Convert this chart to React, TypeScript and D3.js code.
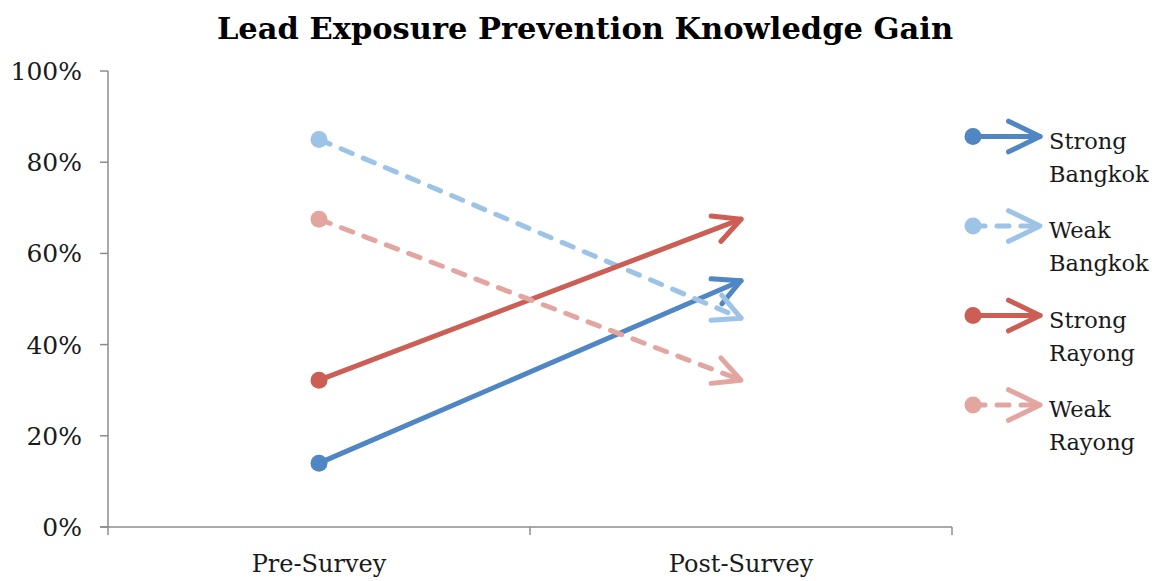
import React from "react";
import * as d3 from "d3";

// Survey stages on the category axis
const stages = ["Pre-Survey", "Post-Survey"];

// Share of correct answers per group (pre, post)
const strongBangkok = [0.14, 0.54];
const weakBangkok = [0.85, 0.458];
const strongRayong = [0.322, 0.675];
const weakRayong = [0.675, 0.322];

const seriesNames = [
  ["Strong", "Bangkok"],
  ["Weak", "Bangkok"],
  ["Strong", "Rayong"],
  ["Weak", "Rayong"],
];
const seriesValues = [strongBangkok, weakBangkok, strongRayong, weakRayong];
const seriesColors = ["#4F86C3", "#9DC3E6", "#CC5F55", "#E3A5A0"];
const seriesDashed = [false, true, false, true];

const yTicks = [0, 0.2, 0.4, 0.6, 0.8, 1.0];

const W = 1156;
const H = 581;
const FONT = "'DejaVu Serif', 'Liberation Serif', serif";

function arrowHead(tipX: number, tipY: number, fromX: number, fromY: number, len: number, angDeg: number) {
  const a = Math.atan2(fromY - tipY, fromX - tipX);
  const da = (angDeg * Math.PI) / 180;
  const p1 = [tipX + len * Math.cos(a + da), tipY + len * Math.sin(a + da)];
  const p2 = [tipX + len * Math.cos(a - da), tipY + len * Math.sin(a - da)];
  return `M${p1[0]},${p1[1]}L${tipX},${tipY}L${p2[0]},${p2[1]}`;
}

export default function App() {
  const x0 = 108;
  const x1 = 952;
  const x = d3.scalePoint<string>().domain(stages).range([x0, x1]).padding(0.5);
  const y = d3.scaleLinear().domain([0, 1]).range([527, 71]);
  const bandTicks = [x0, (x0 + x1) / 2, x1];
  const sw = 5;
  const dash = "12 12";

  return (
    <svg width={W} height={H} style={{ position: "absolute", left: 0, top: 0, background: "#fff" }}>
      <text x={585} y={39} textAnchor="middle" fontFamily={FONT} fontWeight="bold" fontSize={30.5} fill="#000">
        Lead Exposure Prevention Knowledge Gain
      </text>

      {/* y axis */}
      <line x1={x0} x2={x0} y1={y(1)} y2={y(0)} stroke="#8c8c8c" strokeWidth={1.5} />
      {yTicks.map((t) => (
        <g key={t}>
          <line x1={x0 - 8} x2={x0} y1={y(t)} y2={y(t)} stroke="#8c8c8c" strokeWidth={1.5} />
          <text x={82} y={y(t)} dy="0.36em" textAnchor="end" fontFamily={FONT} fontSize={25} fill="#1a1a1a">
            {d3.format(".0%")(t)}
          </text>
        </g>
      ))}

      {/* x axis */}
      <line x1={x0 - 8} x2={x1} y1={y(0)} y2={y(0)} stroke="#8c8c8c" strokeWidth={1.5} />
      {bandTicks.map((t, i) => (
        <line key={i} x1={t} x2={t} y1={y(0)} y2={y(0) + 8} stroke="#8c8c8c" strokeWidth={1.5} />
      ))}
      {stages.map((s) => (
        <text key={s} x={x(s)} y={572} textAnchor="middle" fontFamily={FONT} fontSize={24} fill="#1a1a1a">
          {s}
        </text>
      ))}

      {/* series */}
      {seriesValues.map((vals, i) => {
        const ax = x(stages[0])!;
        const ay = y(vals[0]);
        const bx = x(stages[1])!;
        const by = y(vals[1]);
        return (
          <g key={i} stroke={seriesColors[i]} fill="none" strokeWidth={sw} strokeLinecap="round" strokeLinejoin="round">
            <line x1={ax} y1={ay} x2={bx} y2={by} strokeDasharray={seriesDashed[i] ? dash : undefined} />
            <path d={arrowHead(bx, by, ax, ay, 30, 27)} />
            <circle cx={ax} cy={ay} r={8.5} fill={seriesColors[i]} stroke="none" />
          </g>
        );
      })}

      {/* legend */}
      {seriesNames.map((name, i) => {
        const cy = 136.5 + i * 89.5;
        const lx0 = 973;
        const lx1 = 1040;
        return (
          <g key={i}>
            <g stroke={seriesColors[i]} fill="none" strokeWidth={sw} strokeLinecap="round" strokeLinejoin="round">
              <line x1={lx0} y1={cy} x2={lx1} y2={cy} strokeDasharray={seriesDashed[i] ? dash : undefined} />
              <path d={arrowHead(lx1, cy, lx0, cy, 35, 26)} />
              <circle cx={lx0} cy={cy} r={8.5} fill={seriesColors[i]} stroke="none" />
            </g>
            <text x={1049} y={cy + 12} fontFamily={FONT} fontSize={22.5} fill="#1a1a1a">
              {name[0]}
            </text>
            <text x={1049} y={cy + 45} fontFamily={FONT} fontSize={22.5} fill="#1a1a1a">
              {name[1]}
            </text>
          </g>
        );
      })}
    </svg>
  );
}
